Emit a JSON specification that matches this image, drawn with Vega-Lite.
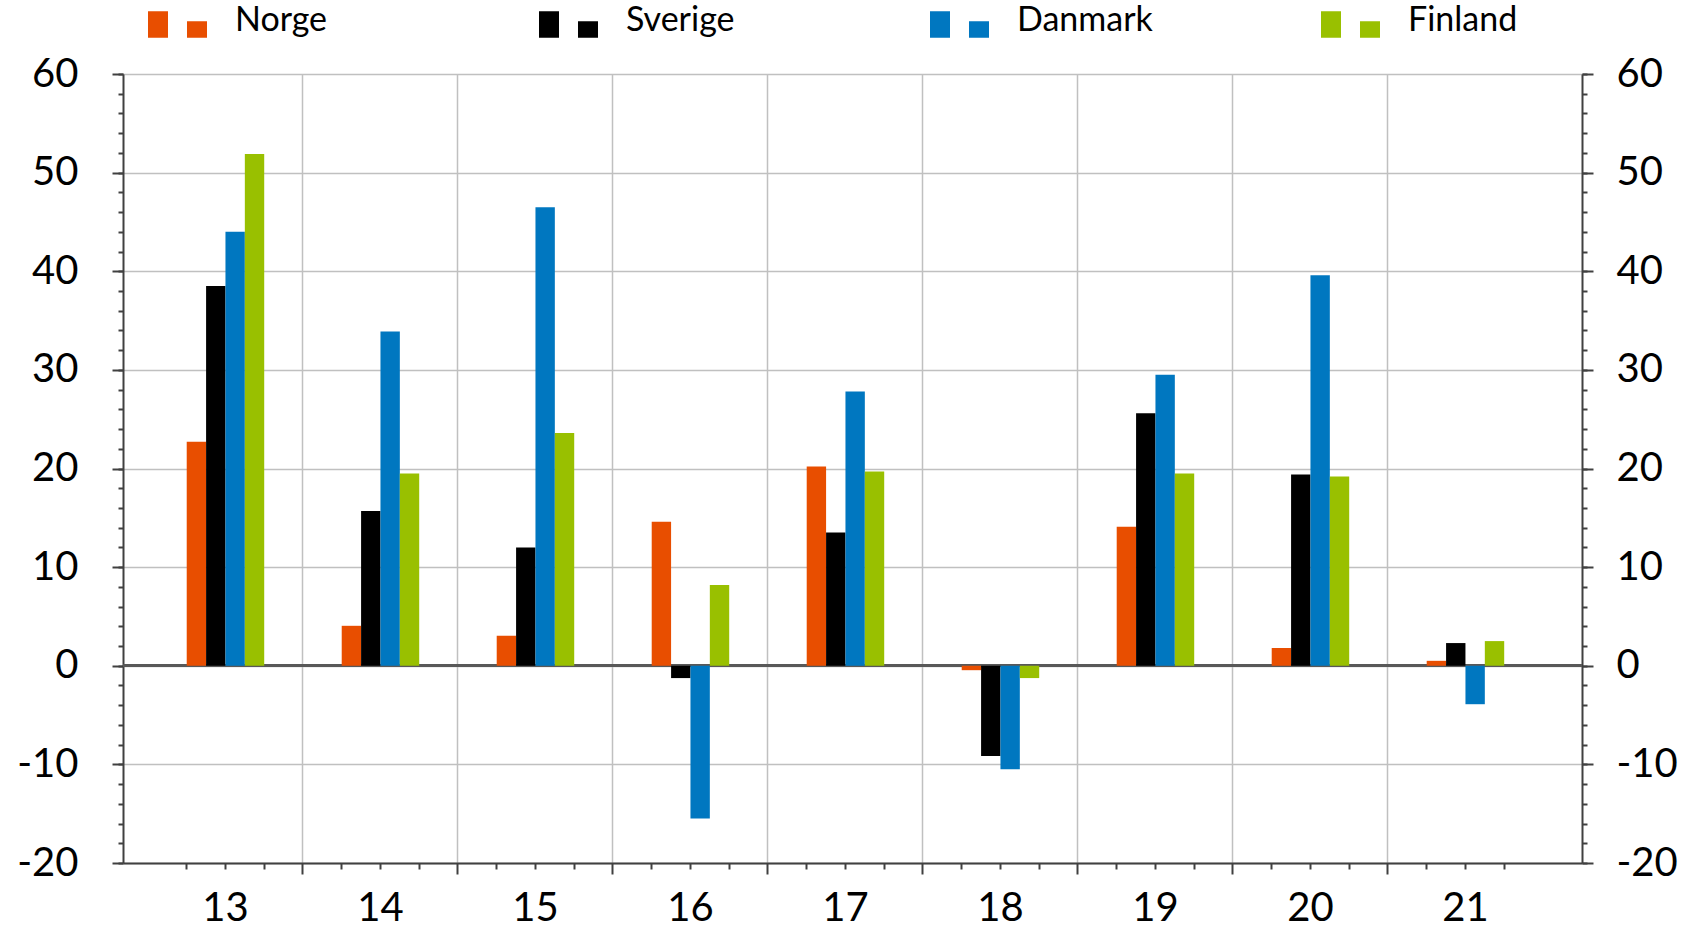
{
  "$schema": "https://vega.github.io/schema/vega-lite/v6.json",
  "width": 1459,
  "height": 789,
  "autosize": {"type": "none"},
  "padding": {"left": 123, "top": 74, "right": 116, "bottom": 63},
  "background": "white",
  "config": {
    "view": {"stroke": null},
    "font": "Lato",
    "axis": {
      "labelFont": "Lato",
      "labelFontSize": 40,
      "labelColor": "black",
      "tickColor": "#404040",
      "tickWidth": 2,
      "domainColor": "#404040",
      "domainWidth": 2,
      "gridColor": "#c0c0c0",
      "gridWidth": 1.5
    }
  },
  "data": {
    "values": [
      {"yr": 13, "land": "Norge", "v": 22.7},
      {"yr": 13, "land": "Sverige", "v": 38.5},
      {"yr": 13, "land": "Danmark", "v": 44.0},
      {"yr": 13, "land": "Finland", "v": 51.9},
      {"yr": 14, "land": "Norge", "v": 4.05},
      {"yr": 14, "land": "Sverige", "v": 15.7},
      {"yr": 14, "land": "Danmark", "v": 33.9},
      {"yr": 14, "land": "Finland", "v": 19.5},
      {"yr": 15, "land": "Norge", "v": 3.05},
      {"yr": 15, "land": "Sverige", "v": 12.0},
      {"yr": 15, "land": "Danmark", "v": 46.5},
      {"yr": 15, "land": "Finland", "v": 23.6},
      {"yr": 16, "land": "Norge", "v": 14.6},
      {"yr": 16, "land": "Sverige", "v": -1.25},
      {"yr": 16, "land": "Danmark", "v": -15.5},
      {"yr": 16, "land": "Finland", "v": 8.2},
      {"yr": 17, "land": "Norge", "v": 20.2},
      {"yr": 17, "land": "Sverige", "v": 13.5},
      {"yr": 17, "land": "Danmark", "v": 27.8},
      {"yr": 17, "land": "Finland", "v": 19.7},
      {"yr": 18, "land": "Norge", "v": -0.45},
      {"yr": 18, "land": "Sverige", "v": -9.15},
      {"yr": 18, "land": "Danmark", "v": -10.5},
      {"yr": 18, "land": "Finland", "v": -1.25},
      {"yr": 19, "land": "Norge", "v": 14.1},
      {"yr": 19, "land": "Sverige", "v": 25.6},
      {"yr": 19, "land": "Danmark", "v": 29.5},
      {"yr": 19, "land": "Finland", "v": 19.5},
      {"yr": 20, "land": "Norge", "v": 1.8},
      {"yr": 20, "land": "Sverige", "v": 19.4},
      {"yr": 20, "land": "Danmark", "v": 39.6},
      {"yr": 20, "land": "Finland", "v": 19.2},
      {"yr": 21, "land": "Norge", "v": 0.5},
      {"yr": 21, "land": "Sverige", "v": 2.3},
      {"yr": 21, "land": "Danmark", "v": -3.9},
      {"yr": 21, "land": "Finland", "v": 2.5}
    ]
  },
  "resolve": {"axis": {"x": "independent", "y": "independent"}},
  "layer": [
    {
      "mark": {"type": "bar", "opacity": 0},
      "encoding": {
        "x": {
          "field": "yr", "type": "ordinal", "title": null,
          "scale": {"paddingInner": 0, "paddingOuter": 0.2065, "align": 0.39},
          "axis": {"orient": "bottom", "bandPosition": 1, "values": [13, 14, 15, 16, 17, 18, 19, 20], "labels": false, "ticks": true, "tickSize": 11, "grid": true, "domain": false}
        },
        "y": {
          "field": "v", "type": "quantitative", "stack": null, "title": null,
          "scale": {"domain": [-20, 60], "nice": false, "zero": false},
          "axis": {"orient": "left", "values": [-20, -10, 0, 10, 20, 30, 40, 50, 60], "labelExpr": "'' + datum.value", "tickSize": 11, "labelPadding": 34, "grid": true, "domain": true}
        }
      }
    },
    {
      "mark": {"type": "bar", "opacity": 0},
      "encoding": {
        "x": {
          "field": "yr", "type": "ordinal", "title": null,
          "axis": {"orient": "bottom", "bandPosition": 0.25, "values": [13, 14, 15, 16, 17, 18, 19, 20, 21], "labels": false, "ticks": true, "tickSize": 6, "grid": false, "domain": false}
        },
        "y": {
          "field": "v", "type": "quantitative", "stack": null, "title": null,
          "axis": {"orient": "left", "values": [-20, -18, -16, -14, -12, -10, -8, -6, -4, -2, 0, 2, 4, 6, 8, 10, 12, 14, 16, 18, 20, 22, 24, 26, 28, 30, 32, 34, 36, 38, 40, 42, 44, 46, 48, 50, 52, 54, 56, 58, 60], "labels": false, "tickSize": 5, "grid": false, "domain": false}
        }
      }
    },
    {
      "mark": {"type": "bar", "opacity": 0},
      "encoding": {
        "x": {
          "field": "yr", "type": "ordinal", "title": null,
          "axis": {"orient": "bottom", "bandPosition": 0.5, "values": [13, 14, 15, 16, 17, 18, 19, 20, 21], "labels": false, "ticks": true, "tickSize": 6, "grid": false, "domain": false}
        },
        "y": {
          "field": "v", "type": "quantitative", "stack": null, "title": null,
          "axis": {"orient": "right", "values": [-20, -10, 0, 10, 20, 30, 40, 50, 60], "labelExpr": "'' + datum.value", "tickSize": 11, "labelPadding": 23, "grid": false, "domain": true}
        }
      }
    },
    {
      "mark": {"type": "bar", "opacity": 0},
      "encoding": {
        "x": {
          "field": "yr", "type": "ordinal", "title": null,
          "axis": {"orient": "bottom", "bandPosition": 0.75, "values": [13, 14, 15, 16, 17, 18, 19, 20, 21], "labels": false, "ticks": true, "tickSize": 6, "grid": false, "domain": false}
        },
        "y": {
          "field": "v", "type": "quantitative", "stack": null, "title": null,
          "axis": {"orient": "right", "values": [-20, -18, -16, -14, -12, -10, -8, -6, -4, -2, 0, 2, 4, 6, 8, 10, 12, 14, 16, 18, 20, 22, 24, 26, 28, 30, 32, 34, 36, 38, 40, 42, 44, 46, 48, 50, 52, 54, 56, 58, 60], "labels": false, "tickSize": 5, "grid": false, "domain": false}
        }
      }
    },
    {
      "mark": {"type": "rule", "color": "#595959", "strokeWidth": 2},
      "encoding": {
        "y": {"datum": 0, "type": "quantitative", "axis": null}
      }
    },
    {
      "mark": {"type": "bar"},
      "encoding": {
        "x": {
          "field": "yr", "type": "ordinal", "title": null,
          "axis": {"orient": "bottom", "labelAngle": 0, "ticks": false, "tickSize": 0, "labelPadding": 25, "grid": false, "domain": true}
        },
        "xOffset": {
          "field": "land", "type": "nominal",
          "scale": {"domain": ["pad1", "pad2", "Norge", "Sverige", "Danmark", "Finland", "pad3", "pad4"], "paddingInner": 0, "paddingOuter": 0}
        },
        "y": {"field": "v", "type": "quantitative", "stack": null, "axis": null},
        "color": {
          "field": "land", "type": "nominal",
          "sort": ["Norge", "Sverige", "Danmark", "Finland"],
          "scale": {"domain": ["Norge", "Sverige", "Danmark", "Finland"], "range": ["#E84E00", "#000000", "#0077C0", "#99C000"]},
          "legend": {
            "title": null,
            "orient": "none",
            "legendX": 25,
            "legendY": -83,
            "direction": "horizontal",
            "columns": 4,
            "gridAlign": "all",
            "columnPadding": 168,
            "symbolType": "M-1,-0.322H-0.322V0.583H-1Z M0.322,0.017H1V0.583H0.322Z",
            "symbolSize": 3481,
            "symbolStrokeWidth": 0,
            "symbolOpacity": 1,
            "labelOffset": 28,
            "labelFont": "Lato",
            "labelFontSize": 34,
            "labelColor": "black",
            "padding": 0
          }
        }
      }
    }
  ]
}
